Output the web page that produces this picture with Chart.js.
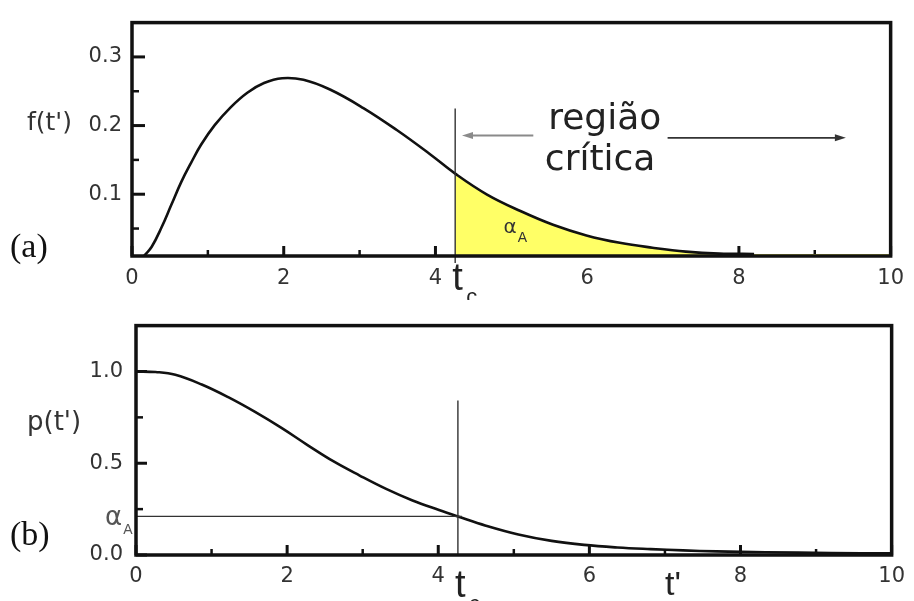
<!DOCTYPE html>
<html>
<head>
<meta charset="utf-8">
<script src="https://cdn.jsdelivr.net/npm/chart.js@4"></script>
<style>
  html, body { margin: 0; padding: 0; background: #fff; }
  #wrap { position: relative; width: 914px; height: 601px; }
  canvas { position: absolute; left: 0; }
  #chartF { top: 0; }
  #chartP { top: 300px; }
</style>
</head>
<body>
<div id="wrap">
  <canvas id="chartF" width="914" height="300"></canvas>
  <canvas id="chartP" width="914" height="301"></canvas>
</div>
<script>
// (a) density f(t')
const tF = [0.16, 0.26, 0.39, 0.52, 0.65, 0.78, 0.91, 1.09, 1.30, 1.52, 1.74, 1.98, 2.26, 2.61, 3.05, 3.49, 3.92, 4.26, 4.68, 5.12, 5.55, 5.99, 6.43, 6.86, 7.30, 7.74, 8.2, 9.0, 10.0];
const fVals = [0.0103, 0.0235, 0.0518, 0.085, 0.118, 0.146, 0.172, 0.2006, 0.2266, 0.2479, 0.262, 0.269, 0.2667, 0.2525, 0.2255, 0.1935, 0.159, 0.13, 0.0995, 0.0755, 0.0555, 0.04, 0.0292, 0.0221, 0.0164, 0.0135, 0.013, 0.013, 0.013];

// (b) tail probability p(t')
const tP = [0, 0.26, 0.52, 0.87, 1.22, 1.57, 1.92, 2.27, 2.61, 2.96, 3.31, 3.66, 4.01, 4.26, 4.63, 5.06, 5.50, 5.93, 6.37, 6.81, 7.24, 7.68, 8.33, 9.20, 10];
const pVals = [1.0, 0.997, 0.982, 0.929, 0.860, 0.781, 0.694, 0.599, 0.511, 0.433, 0.360, 0.297, 0.245, 0.210, 0.160, 0.112, 0.077, 0.055, 0.041, 0.032, 0.025, 0.020, 0.015, 0.011, 0.009];

const xTicks = [0, 2, 4, 6, 8, 10];
const xMinor = [1, 3, 5, 7, 9];
const fTicks = [0.1, 0.2, 0.3];
const fMinor = [0.05, 0.15, 0.25];
const pTicks = [0, 0.5, 1.0];
const pMinor = [0.25, 0.75];

const tCrit = 4.26;      // t_c
const alphaA = 0.210;    // p(t_c)
const curveEnd = 8.2;    // f(t') runs into the axis past here

const tickFont = { family: 'DejaVu Sans', size: 21 };
const tickColor = '#333';
const ink = '#111';

function pts(ts, vs, keep) {
  const out = [];
  ts.forEach((t, i) => { if (keep(t)) out.push({ x: t, y: vs[i] }); });
  return out;
}

function scalesFor(yMin, yMax, yTickVals, yWidth, xHeight, xPad, yPad) {
  return {
    x: {
      type: 'linear', min: 0, max: 10,
      grid: { display: false, drawTicks: false }, border: { display: false },
      afterBuildTicks: s => { s.ticks = xTicks.map(v => ({ value: v })); },
      afterFit: s => { s.height = xHeight; },
      ticks: { font: tickFont, color: tickColor, padding: xPad, maxRotation: 0, autoSkip: false, callback: v => String(v) }
    },
    y: {
      type: 'linear', min: yMin, max: yMax,
      grid: { display: false, drawTicks: false }, border: { display: false },
      afterBuildTicks: s => { s.ticks = yTickVals.map(v => ({ value: v })); },
      afterFit: s => { s.width = yWidth; },
      ticks: { font: tickFont, color: tickColor, padding: yPad, autoSkip: false, callback: v => v.toFixed(1) }
    }
  };
}

function seg(ctx, x1, y1, x2, y2, color, w) {
  ctx.strokeStyle = color;
  ctx.lineWidth = w;
  ctx.beginPath();
  ctx.moveTo(x1, y1);
  ctx.lineTo(x2, y2);
  ctx.stroke();
}

function text(ctx, str, x, y, font, color) {
  ctx.font = font;
  ctx.fillStyle = color;
  ctx.textAlign = 'left';
  ctx.textBaseline = 'alphabetic';
  ctx.fillText(str, x, y);
}

function arrow(ctx, x1, y, x2, color, w) {
  const dir = Math.sign(x2 - x1);
  seg(ctx, x1, y, x2 - dir * 8, y, color, w);
  ctx.fillStyle = color;
  ctx.beginPath();
  ctx.moveTo(x2, y);
  ctx.lineTo(x2 - dir * 11, y - 3.5);
  ctx.lineTo(x2 - dir * 11, y + 3.5);
  ctx.closePath();
  ctx.fill();
}

// inward tick marks, drawn under the data
function tickMarks(chart, yMajor, yMinor, yMajorLen) {
  const { ctx, chartArea: a, scales: { x, y } } = chart;
  ctx.save();
  xTicks.forEach(v => { const px = x.getPixelForValue(v); seg(ctx, px, a.bottom, px, a.bottom - 10, ink, 3); });
  xMinor.forEach(v => { const px = x.getPixelForValue(v); seg(ctx, px, a.bottom, px, a.bottom - 6, ink, 2.5); });
  yMajor.forEach(v => { const py = y.getPixelForValue(v); seg(ctx, a.left, py, a.left + yMajorLen, py, ink, 3); });
  yMinor.forEach(v => { const py = y.getPixelForValue(v); seg(ctx, a.left, py, a.left + 7, py, ink, 2.5); });
  ctx.restore();
}

function frame(chart) {
  const { ctx, chartArea: a } = chart;
  ctx.save();
  ctx.strokeStyle = ink;
  ctx.lineWidth = 3.5;
  ctx.strokeRect(a.left, a.top, a.right - a.left, a.bottom - a.top);
  ctx.restore();
}

function alphaLabel(ctx, x, y, size, color) {
  text(ctx, 'α', x, y, `${size}px "DejaVu Sans"`, color);
  const w = ctx.measureText('α').width;
  text(ctx, 'A', x + w + 1, y + 9, '14px "Liberation Sans"', color);
}

function tcLabel(ctx, x, y) {
  text(ctx, 't', x - 3, y, '38px "Liberation Sans"', '#222');
  text(ctx, 'c', x + 11, y + 14, '22px "Liberation Sans"', '#222');
}

const decorF = {
  id: 'decorF',
  beforeDatasetsDraw(chart) { tickMarks(chart, fTicks, fMinor, 13); },
  afterDatasetsDraw(chart) {
    const { ctx, chartArea: a, scales: { x, y } } = chart;
    ctx.save();
    const xc = x.getPixelForValue(tCrit);
    seg(ctx, xc, y.getPixelForValue(0.2248), xc, a.bottom + 7, '#333', 1.4);
    arrow(ctx, x.getPixelForValue(5.29), y.getPixelForValue(0.1857), x.getPixelForValue(4.35), '#8a8a8a', 2);
    arrow(ctx, x.getPixelForValue(7.06), y.getPixelForValue(0.1821), x.getPixelForValue(9.41), '#333', 1.6);
    text(ctx, 'região', x.getPixelForValue(5.486), y.getPixelForValue(0.195), '36px "DejaVu Sans"', '#222');
    text(ctx, 'crítica', x.getPixelForValue(5.442), y.getPixelForValue(0.1352), '36px "DejaVu Sans"', '#222');
    alphaLabel(ctx, x.getPixelForValue(4.898), y.getPixelForValue(0.0441), 20, '#333');
    frame(chart);
    tcLabel(ctx, xc, a.bottom + 34);
    text(ctx, "f(t')", 27, 130, '25px "DejaVu Sans"', '#333');
    text(ctx, '(a)', 10, 257, '34px "Liberation Serif"', '#111');
    ctx.restore();
  }
};

const decorP = {
  id: 'decorP',
  beforeDatasetsDraw(chart) { tickMarks(chart, pTicks, pMinor, 11); },
  afterDatasetsDraw(chart) {
    const { ctx, chartArea: a, scales: { x, y } } = chart;
    ctx.save();
    const xc = x.getPixelForValue(tCrit);
    const ya = y.getPixelForValue(alphaA);
    seg(ctx, a.left, ya, xc + 4, ya, '#333', 1.3);
    seg(ctx, xc, y.getPixelForValue(0.842), xc, a.bottom, '#333', 1.4);
    frame(chart);
    alphaLabel(ctx, 105, ya + 9, 26, '#555');
    tcLabel(ctx, xc, a.bottom + 42);
    text(ctx, "t'", 665, a.bottom + 40, '34px "Liberation Sans"', '#222');
    text(ctx, "p(t')", 27, 130, '26px "DejaVu Sans"', '#333');
    text(ctx, '(b)', 10, 245, '34px "Liberation Serif"', '#111');
    ctx.restore();
  }
};

const common = {
  responsive: false,
  animation: false,
  devicePixelRatio: 1,
  events: [],
  plugins: { legend: { display: false }, tooltip: { enabled: false } },
  elements: { point: { radius: 0 }, line: { tension: 0.4 } }
};

new Chart(document.getElementById('chartF'), {
  type: 'line',
  data: {
    datasets: [
      {
        data: pts(tF, fVals, t => t <= curveEnd),
        borderColor: ink,
        borderWidth: 2.6,
        fill: false
      },
      {
        data: pts(tF, fVals, t => t >= tCrit),
        borderWidth: 0,
        borderColor: 'rgba(0,0,0,0)',
        backgroundColor: '#ffff66',
        fill: 'start'
      }
    ]
  },
  options: {
    ...common,
    layout: { padding: { top: 17, right: 17, left: 0, bottom: 0 } },
    scales: scalesFor(0.01, 0.35, fTicks, 132, 44, 10, 10)
  },
  plugins: [decorF]
});

new Chart(document.getElementById('chartP'), {
  type: 'line',
  data: {
    datasets: [
      {
        data: pts(tP, pVals, () => true),
        borderColor: ink,
        borderWidth: 2.6,
        fill: false
      }
    ]
  },
  options: {
    ...common,
    layout: { padding: { top: 15, right: 13, left: 0, bottom: 0 } },
    scales: scalesFor(0, 1.25, pTicks, 136, 46, 9, 13)
  },
  plugins: [decorP]
});
</script>
</body>
</html>
